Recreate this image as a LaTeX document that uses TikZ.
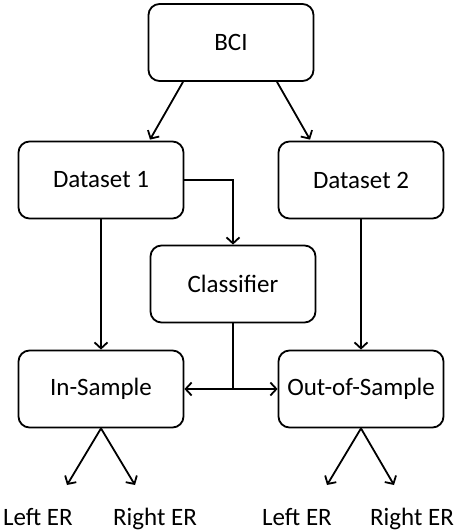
\documentclass[tikz,border=0pt]{standalone}
\usepackage{fontspec}
\setmainfont{Carlito}
\usetikzlibrary{arrows.meta,calc}
\begin{document}
\begin{tikzpicture}[x=1pt,y=-1pt,
  box/.style={draw,line width=1.8pt,rounded corners=11pt,minimum width=165pt,minimum height=77pt,inner sep=0pt,font=\fontsize{25}{30}\selectfont},
  lbl/.style={inner sep=0pt,anchor=base,font=\fontsize{25}{30}\selectfont},
  conn/.style={line width=1.8pt,-{Straight Barb[length=6pt,width=13pt,line width=1.8pt]}},
  plain/.style={line width=1.8pt}]
\useasboundingbox (0,0) rectangle (459,532);
\node[box] (bci) at (231,42.5) {BCI};
\node[box] (d1) at (101,180) {Dataset 1};
\node[box] (d2) at (361,180) {Dataset 2};
\node[box] (cl) at (233,284) {Classifier};
\node[box] (ins) at (101,389) {In-Sample};
\node[box] (out) at (361,389) {Out-of-Sample};
\node[lbl] (l1) at (38,525) {Left ER};
\node[lbl] (r1) at (155,525) {Right ER};
\node[lbl] (l2) at (297,525) {Left ER};
\node[lbl] (r2) at (412,525) {Right ER};
\coordinate (a1) at (67,485);
\coordinate (b1) at (135,485);
\coordinate (a2) at (327,485);
\coordinate (b2) at (394,485);
\draw[conn] ($(bci.south)+(-48,0)$) -- ($(d1.north)+(49,-1)$);
\draw[conn] ($(bci.south)+(46,0)$) -- ($(d2.north)+(-51,-1)$);
\draw[conn] (d1.east) -| (cl.north);
\draw[conn] (d1.south) -- (ins.north);
\draw[conn] (d2.south) -- (out.north);
\coordinate (j) at (cl.south |- ins.east);
\draw[plain] (cl.south) -- (j);
\draw[conn] (j) -- (ins.east);
\draw[conn] (j) -- (out.west);
\draw[conn] (ins.south) -- (a1);
\draw[conn] (ins.south) -- (b1);
\draw[conn] (out.south) -- (a2);
\draw[conn] (out.south) -- (b2);
\end{tikzpicture}
\end{document}
